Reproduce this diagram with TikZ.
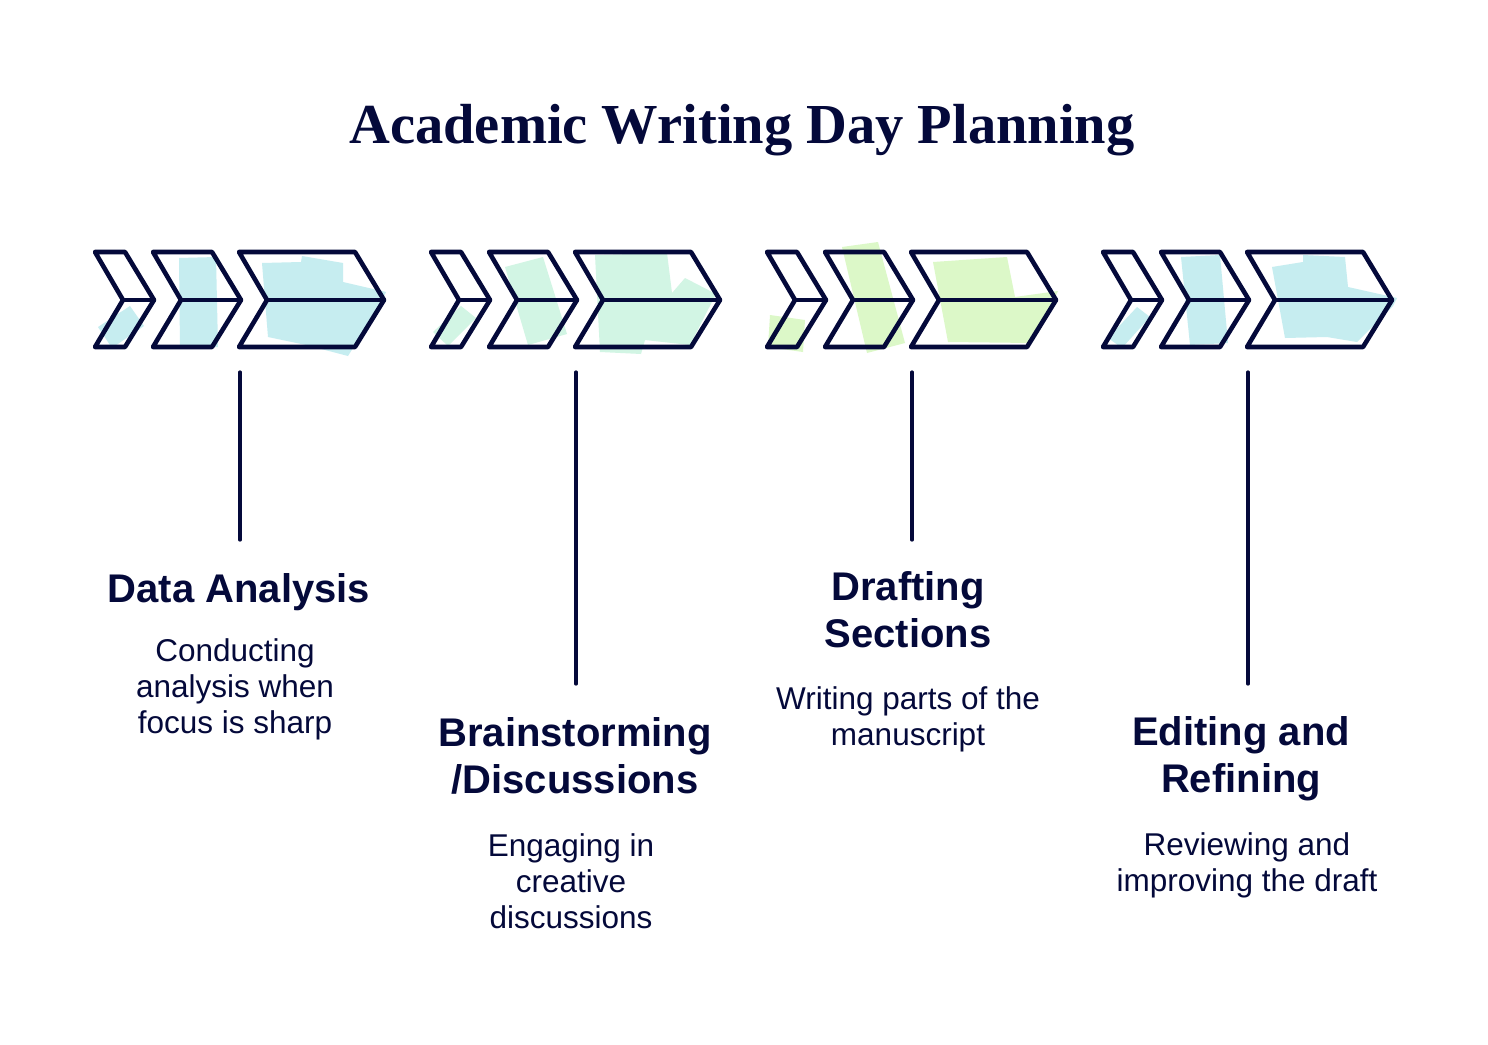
\documentclass[tikz,border=0pt]{standalone}
\usepackage{fontspec}
\setmainfont{Liberation Sans}
\newfontfamily\titlefont{Liberation Serif}
\definecolor{navy}{RGB}{4,9,58}
\definecolor{cyanfill}{RGB}{198,237,240}
\definecolor{mintfill}{RGB}{210,245,228}
\definecolor{limefill}{RGB}{220,248,200}
\newcommand\mychevron[2]{%
  \draw[chev] ({#1},252) -- ({#2},252) -- ({#2+29},300) -- ({#2},347) -- ({#1},347) -- ({#1+28},300) -- cycle;
  \draw[chev] ({#1+28},300) -- ({#2+29},300);}
\begin{document}
\begin{tikzpicture}[x=1pt,y=-1pt,
  chev/.style={draw=navy,line width=4.6pt,line join=round,line cap=round},
  vline/.style={draw=navy,line width=3.2pt,line cap=round},
  titletext/.style={text=navy,font=\titlefont\bfseries\fontsize{56.5}{60}\selectfont,anchor=base,inner sep=0pt},
  heading/.style={text=navy,font=\fontsize{40}{47}\selectfont\bfseries,align=center,anchor=base,inner sep=0pt},
  body/.style={text=navy,font=\fontsize{31.5}{36}\selectfont,align=center,anchor=base,inner sep=0pt}]
\useasboundingbox (0,0) rectangle (1488,1044);
\fill[white] (0,0) rectangle (1488,1044);
% fill patches
\fill[cyanfill] (98,327) -- (130,306) -- (144,326) -- (112,348) -- cycle;
\fill[cyanfill] (179,258) -- (216,257) -- (218,347) -- (180,348) -- cycle;
\fill[cyanfill] (262,263) -- (301,262) -- (302,256) -- (343,263) -- (343,282) -- (386,292) -- (380,305) -- (348,356) -- (306,345) -- (268,337) -- cycle;
\fill[mintfill] (433,332) -- (461,306) -- (476,318) -- (448,346) -- cycle;
\fill[mintfill] (505,267) -- (543,257) -- (567,334) -- (528,345) -- cycle;
\fill[mintfill] (595,255) -- (667,253) -- (672,293) -- (685,278) -- (716,294) -- (690,345) -- (645,340) -- (641,354) -- (600,352) -- cycle;
\fill[limefill] (770,315) -- (805,320) -- (803,352) -- (768,347) -- cycle;
\fill[limefill] (842,247) -- (878,242) -- (905,343) -- (867,353) -- cycle;
\fill[limefill] (933,262) -- (1007,257) -- (1015,297) -- (1058,291) -- (1040,330) -- (1032,343) -- (948,342) -- cycle;
\fill[cyanfill] (1108,338) -- (1137,307) -- (1150,317) -- (1122,348) -- cycle;
\fill[cyanfill] (1181,257) -- (1220,255) -- (1228,343) -- (1190,345) -- cycle;
\fill[cyanfill] (1272,267) -- (1303,262) -- (1303,255) -- (1345,257) -- (1348,287) -- (1397,298) -- (1393,306) -- (1357,342) -- (1327,337) -- (1285,338) -- cycle;
% chevrons
\foreach \b in {95,431,767,1103}{
  \mychevron{\b}{\b+30}
  \mychevron{\b+58}{\b+117}
  \mychevron{\b+144}{\b+260}
}
% title
\node[titletext] (title) at (742,143) {Academic Writing Day Planning};
% connector ends
\coordinate (v1a) at (240,372); \coordinate (v1b) at (240,540);
\coordinate (v2a) at (576,372); \coordinate (v2b) at (576,684);
\coordinate (v3a) at (912,372); \coordinate (v3b) at (912,540);
\coordinate (v4a) at (1248,372); \coordinate (v4b) at (1248,684);
\draw[vline] (v1a) -- (v1b);
\draw[vline] (v2a) -- (v2b);
\draw[vline] (v3a) -- (v3b);
\draw[vline] (v4a) -- (v4b);
% texts (base anchor = baseline of the last line)
\node[heading] (h1) at (239,602) {Data Analysis};
\node[body] (b1) at (235,733) {Conducting\\analysis when\\focus is sharp};
\node[heading] (h2) at (575,793) {Brainstorming\\/Discussions};
\node[body] (b2) at (571,928) {Engaging in\\creative\\discussions};
\node[heading] (h3) at (908,647) {Drafting\\Sections};
\node[body] (b3) at (908,745) {Writing parts of the\\manuscript};
\node[heading] (h4) at (1241,792) {Editing and\\Refining};
\node[body] (b4) at (1247,891) {Reviewing and\\improving the draft};
\end{tikzpicture}
\end{document}
